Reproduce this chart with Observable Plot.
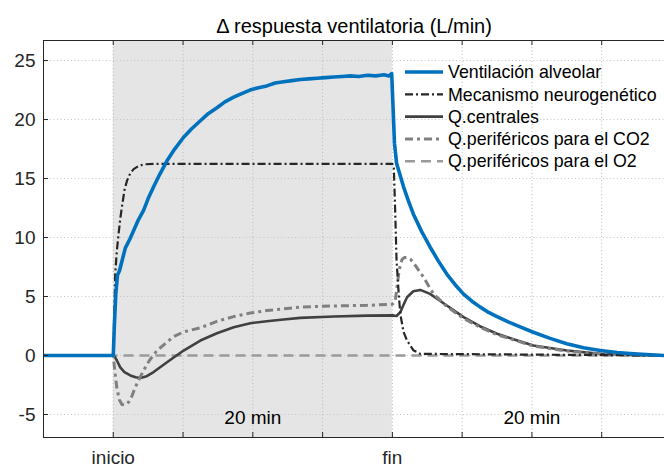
<!DOCTYPE html>
<html><head><meta charset="utf-8">
<script src="https://cdn.jsdelivr.net/npm/d3@7"></script>
<script src="https://cdn.jsdelivr.net/npm/@observablehq/plot@0.6"></script>
<style>
body{margin:0;background:#fff;}
#wrap{position:relative;width:664px;height:468px;font-family:"Liberation Sans",Arial,Helvetica,sans-serif;}
#legend{position:absolute;left:0;top:0;pointer-events:none;}
</style></head><body><div id="wrap"></div>
<script>
// ---- axes / annotation data ----
const xDomain = [-5, 39.5];
const yDomain = [-6.95, 26.7];
const xTicks = [-5, 0, 5, 10, 15, 20, 25, 30, 35];
const yTicks = [-5, 0, 5, 10, 15, 20, 25];
const xLabelValues = [0, 20];
const xLabelTexts = ["inicio", "fin"];
const spanStart = [0];
const spanEnd = [20];
const durationX = [10, 30];
const durationTexts = ["20 min", "20 min"];
const durationY = -5.3;
const title = "Δ respuesta ventilatoria (L/min)";

// ---- series ----
const seriesNames = ["Ventilación alveolar", "Mecanismo neurogenético", "Q.centrales", "Q.periféricos para el CO2", "Q.periféricos para el O2"];

const ventT = [-5, 0, 0.08, 0.18, 0.3, 0.45, 0.86, 1.2, 1.46, 1.8, 2.17, 2.5, 2.89, 3.35, 3.85, 4.4, 5.04, 5.6, 6.24, 6.8, 7.43, 8.0, 8.63, 9.2, 9.8, 10.4, 11.0, 11.6, 12.2, 12.8, 13.4, 14.0, 14.6, 15.2, 15.8, 16.4, 17.0, 17.6, 18.2, 18.8, 19.4, 19.75, 19.95, 20.05, 20.15, 20.3, 20.55, 20.8, 21.15, 21.5, 22.1, 22.7, 23.3, 23.9, 24.5, 25.1, 25.7, 26.3, 26.9, 27.5, 28.3, 29.2, 30.1, 31.3, 32.5, 33.7, 34.9, 36.1, 37.3, 38.5, 39.5];
const ventV = [0, 0, 2.6, 5.2, 6.8, 7.2, 9.1, 9.9, 10.6, 11.5, 12.3, 13.3, 14.3, 15.4, 16.5, 17.5, 18.5, 19.2, 19.9, 20.5, 21.0, 21.5, 21.9, 22.2, 22.5, 22.7, 22.85, 23.1, 23.2, 23.3, 23.4, 23.45, 23.5, 23.55, 23.6, 23.65, 23.7, 23.65, 23.75, 23.7, 23.8, 23.7, 23.9, 21.0, 18.0, 16.3, 15.3, 14.3, 13.1, 12.0, 10.5, 9.2, 8.0, 6.9, 6.0, 5.2, 4.6, 4.1, 3.65, 3.3, 2.85, 2.4, 1.97, 1.45, 0.99, 0.65, 0.42, 0.25, 0.14, 0.06, 0];

const neuroT = [-5, 0, 0.1, 0.14, 0.25, 0.38, 0.5, 0.62, 0.8, 0.98, 1.2, 1.46, 1.8, 2.17, 3, 20, 20.1, 20.2, 20.3, 20.45, 20.57, 20.8, 21.05, 21.5, 22, 39.5];
const neuroV = [0, 0, 4.7, 6.9, 8.8, 10.3, 11.6, 12.6, 14.0, 14.8, 15.4, 15.8, 16.05, 16.2, 16.25, 16.25, 16.0, 12.3, 8.05, 5.3, 3.5, 2.0, 1.27, 0.45, 0.14, 0];

const centT = [-5, 0, 0.1, 0.25, 0.5, 0.8, 1.22, 1.6, 1.94, 2.4, 2.89, 3.85, 5.04, 6.24, 7.43, 8.63, 9.82, 11, 12.2, 13.4, 15.8, 18.2, 20.0, 20.3, 20.57, 20.8, 21.05, 21.5, 22.0, 22.7, 23.9, 25.1, 26.3, 27.5, 28.9, 30.1, 32.5, 34.9, 37.3, 39.5];
const centV = [0, 0, -0.1, -0.4, -1.0, -1.4, -1.69, -1.85, -1.9, -1.75, -1.4, -0.57, 0.42, 1.27, 1.89, 2.4, 2.74, 2.9, 3.05, 3.19, 3.3, 3.38, 3.4, 3.35, 3.67, 4.3, 4.94, 5.45, 5.56, 5.22, 4.24, 3.25, 2.46, 1.84, 1.3, 0.85, 0.42, 0.14, 0.04, 0];

const co2T = [-5, 0, 0.1, 0.26, 0.45, 0.62, 0.85, 1.1, 1.35, 1.58, 1.9, 2.17, 2.6, 3.13, 4.32, 5.04, 6.24, 7.43, 8.63, 9.82, 11, 12.2, 13.4, 15.8, 18.2, 20.0, 20.2, 20.33, 20.45, 20.57, 20.7, 20.85, 21.05, 21.3, 21.5, 21.9, 22.25, 22.6, 22.96, 23.9, 25.1, 26.3, 27.5, 28.9, 30.1, 32.5, 34.9, 37.3, 39.5];
const co2V = [0, 0, -1.2, -2.8, -3.8, -4.15, -4.2, -3.95, -3.4, -2.68, -1.9, -1.27, -0.4, 0.42, 1.6, 2.0, 2.35, 2.9, 3.3, 3.6, 3.81, 3.95, 4.1, 4.2, 4.25, 4.35, 4.6, 5.8, 6.9, 7.7, 8.15, 8.3, 8.3, 8.15, 7.9, 7.2, 6.6, 5.9, 5.2, 4.15, 3.15, 2.38, 1.76, 1.25, 0.8, 0.38, 0.12, 0.03, 0];

const o2T = [-5, 39.5];
const o2V = [0, 0];

// ---- build table ----
const styles = [
  {stroke: "#0072BD", width: 3.6, dash: null},
  {stroke: "#262626", width: 2.2, dash: "8,3,2,3"},
  {stroke: "#404040", width: 2.6, dash: null},
  {stroke: "#808080", width: 3, dash: "8,4,3,4"},
  {stroke: "#9a9a9a", width: 2.5, dash: "10,6"}
];
const seriesT = [ventT, neuroT, centT, co2T, o2T];
const seriesV = [ventV, neuroV, centV, co2V, o2V];
const series = seriesNames.map((name, i) => ({
  name, ...styles[i],
  data: seriesT[i].map((t, j) => ({t, v: seriesV[i][j]}))
}));
const drawOrder = [4, 2, 3, 1, 0];

const FONT = "'Liberation Sans', Arial, Helvetica, sans-serif";
const INK = "#262626";
const frameH = 468 - 40 - 31;

const chart = Plot.plot({
  width: 664, height: 468,
  marginLeft: 43, marginRight: 0, marginTop: 40, marginBottom: 31,
  x: {domain: xDomain, axis: null},
  y: {domain: yDomain, axis: null},
  style: {fontFamily: FONT, background: "white", overflow: "visible"},
  marks: [
    Plot.rect(spanStart.map((s, i) => ({x1: s, x2: spanEnd[i]})), {x1: "x1", x2: "x2", fill: "#e5e5e5"}),
    Plot.ruleX(xTicks.slice(1), {x: d => d, stroke: "#b8b8b8", strokeWidth: 1, strokeDasharray: "1,2.5"}),
    Plot.ruleY(yTicks, {y: d => d, stroke: "#c4c4c4", strokeWidth: 1, strokeDasharray: "1,2.5"}),
    ...drawOrder.map(i => Plot.line(series[i].data, {
      x: "t", y: "v", stroke: series[i].stroke, strokeWidth: series[i].width,
      strokeDasharray: series[i].dash, strokeLinejoin: "round", strokeLinecap: "butt"
    })),
    Plot.ruleX([xDomain[0]], {x: d => d, stroke: INK, strokeWidth: 1}),
    Plot.ruleY([yDomain[0], yDomain[1]], {y: d => d, stroke: INK, strokeWidth: 1}),
    Plot.tickX(xTicks.slice(1), {x: d => d, stroke: INK, insetTop: frameH - 5}),
    Plot.tickX(xTicks.slice(1), {x: d => d, stroke: INK, insetBottom: frameH - 5}),
    Plot.tickY(yTicks, {y: d => d, stroke: INK, insetRight: 664 - 43 - 5}),
    Plot.text(yTicks, {y: d => d, text: d => String(d), frameAnchor: "left", textAnchor: "end", dx: -8, fontSize: 19, fill: INK}),
    Plot.text(xLabelValues, {x: d => d, text: (d, i) => xLabelTexts[i], frameAnchor: "bottom", dy: 26, fontSize: 19, fill: INK}),
    Plot.text(durationX, {x: d => d, y: () => durationY, text: (d, i) => durationTexts[i], fontSize: 19, fill: "#000"}),
    Plot.text([title], {text: d => d, frameAnchor: "top", dy: -22, fontSize: 20, fill: "#000"})
  ]
});
const wrap = document.getElementById("wrap");
wrap.appendChild(chart);

// ---- legend overlay ----
const leg = d3.select(wrap).append("svg").attr("id", "legend").attr("width", 664).attr("height", 468);
const rowY0 = 72, rowStep = 22.3, lx1 = 405, lx2 = 443, tx = 448;
series.forEach((s, i) => {
  const y = rowY0 + i * rowStep;
  leg.append("line").attr("x1", lx1).attr("x2", lx2).attr("y1", y).attr("y2", y)
    .attr("stroke", s.stroke).attr("stroke-width", s.width)
    .attr("stroke-dasharray", s.dash === null ? null : s.dash);
  leg.append("text").attr("x", tx).attr("y", y).attr("dy", "0.35em")
    .attr("font-family", FONT).attr("font-size", 17.8).attr("fill", "#000").text(s.name);
});
</script></body></html>
